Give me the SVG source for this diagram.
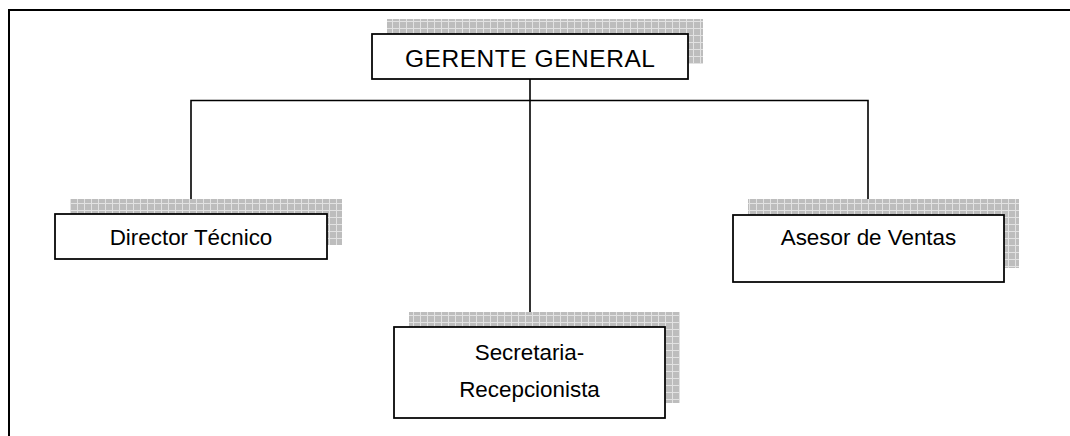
<svg xmlns="http://www.w3.org/2000/svg" width="1070" height="436" viewBox="0 0 1070 436">
  <defs>
    <pattern id="grid" patternUnits="userSpaceOnUse" width="7" height="7">
      <rect width="7" height="7" fill="#bdbdbd"/>
      <path d="M0 0.5H7M0.5 0V7" stroke="#e2e2e2" stroke-width="1"/>
    </pattern>
  </defs>
  <style>
    .shadow { fill: url(#grid); stroke: none; }
    .box { fill: #ffffff; stroke: #000000; stroke-width: 1.75; }
    .lbl { font-family: "Liberation Sans", Arial, sans-serif; fill: #000000; text-anchor: middle; font-size: 22.4px; }
    .conn { stroke: #000000; stroke-width: 1.6; fill: none; }
    .frame { stroke: #000000; stroke-width: 2; fill: none; }
  </style>
  <rect width="1070" height="436" fill="#ffffff"/>
  <path class="frame" d="M9 436V10H1070"/>

  <g id="connectors">
    <path class="conn" d="M530 79V327"/>
    <path class="conn" d="M191 214V100.5H868V215"/>
  </g>

  <g id="gerente-general">
    <rect class="shadow" x="387" y="19" width="316" height="45"/>
    <rect class="box" x="372" y="34" width="316" height="45"/>
    <text class="lbl" x="530" y="67" style="font-size:24.5px" textLength="250" lengthAdjust="spacing">GERENTE GENERAL</text>
  </g>

  <g id="director-tecnico">
    <rect class="shadow" x="70" y="199" width="272" height="46"/>
    <rect class="box" x="55" y="214" width="272" height="45"/>
    <text class="lbl" x="191" y="245">Director Técnico</text>
  </g>

  <g id="asesor-ventas">
    <rect class="shadow" x="748" y="199" width="271" height="69"/>
    <rect class="box" x="733" y="215" width="271" height="67"/>
    <text class="lbl" x="868.5" y="245">Asesor de Ventas</text>
  </g>

  <g id="secretaria-recepcionista">
    <rect class="shadow" x="409" y="312" width="271" height="91"/>
    <rect class="box" x="394" y="327" width="271" height="91"/>
    <text class="lbl" x="529.5" y="360">Secretaria-</text>
    <text class="lbl" x="529.5" y="397">Recepcionista</text>
  </g>
</svg>
